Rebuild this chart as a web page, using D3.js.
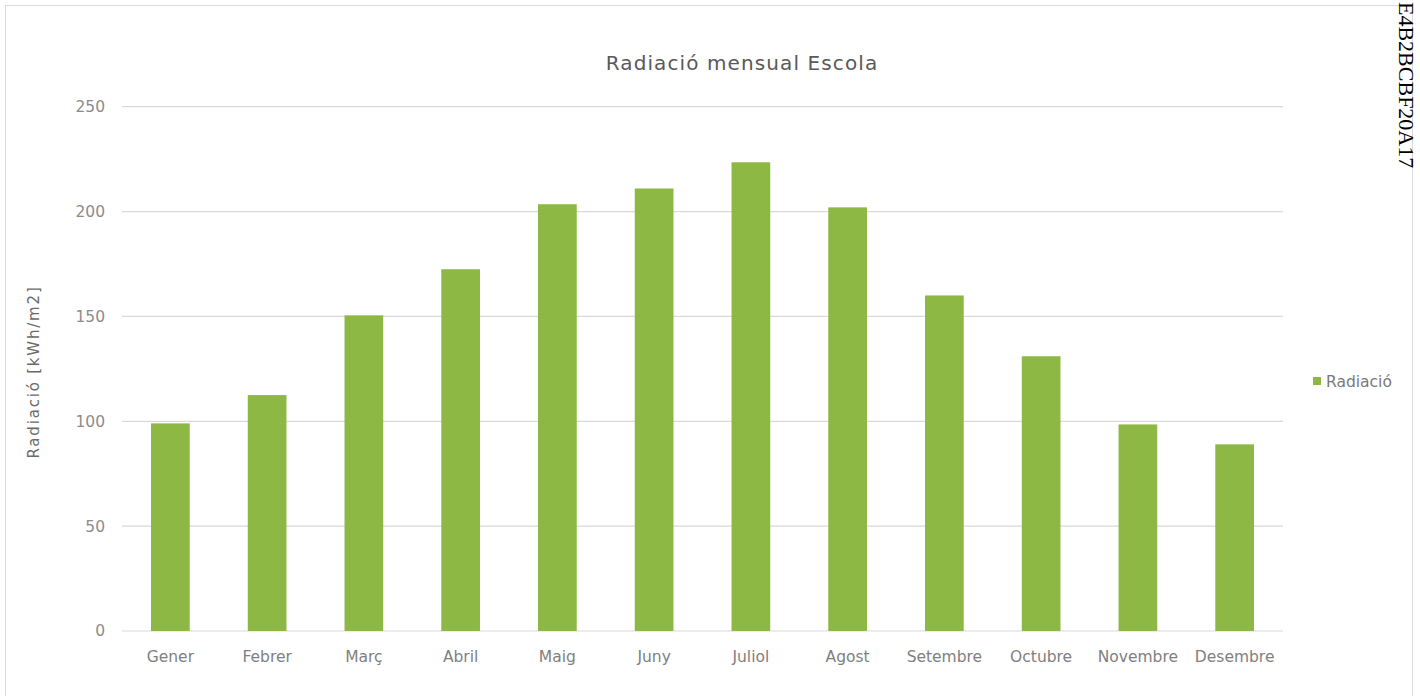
<!DOCTYPE html>
<html><head><meta charset="utf-8">
<script src="https://cdn.jsdelivr.net/npm/d3@7"></script>
<style>body{margin:0;background:#fff;}svg{display:block;}</style>
</head><body>
<svg id="c" width="1420" height="696"></svg>
<script>
const months = ["Gener","Febrer","Març","Abril","Maig","Juny","Juliol","Agost","Setembre","Octubre","Novembre","Desembre"];
const radiacio = [99, 112.5, 150.5, 172.5, 203.5, 211, 223.5, 202, 160, 131, 98.5, 89];
const yTicks = [0, 50, 100, 150, 200, 250];
const title = "Radiació mensual Escola";
const yTitle = "Radiació [kWh/m2]";
const seriesName = "Radiació";
const stamp = "E4B2BCBF20A17";

const svg = d3.select("#c");
const m = {l:122, r:1283, t:106.7, b:631};
const font = "'DejaVu Sans', Verdana, sans-serif";
const green = "#8db843";

svg.append("rect").attr("x",5.5).attr("y",5.5).attr("width",1407).attr("height",700)
  .attr("fill","#fff").attr("stroke","#d9d9d9");

const x = d3.scaleBand().domain(months).range([m.l, m.r]).paddingInner(0.6).paddingOuter(0.3);
const y = d3.scaleLinear().domain([0,250]).range([m.b, m.t]);

// gridlines
svg.append("g").selectAll("line").data(yTicks).join("line")
  .attr("x1", m.l).attr("x2", m.r)
  .attr("y1", d=>y(d)).attr("y2", d=>y(d))
  .attr("stroke", "#d9d9d9").attr("stroke-width", 1.2);

// y axis labels
const ya = svg.append("g").attr("transform",`translate(${m.l},0)`)
  .call(d3.axisLeft(y).tickValues(yTicks).tickSize(0).tickPadding(17));
ya.select(".domain").remove();
ya.selectAll("text").attr("font-family",font).attr("font-size",15.5).attr("fill","#8c8c8c");

// bars
svg.append("g").selectAll("rect").data(radiacio).join("rect")
  .attr("x",(d,i)=>x(months[i])).attr("width",x.bandwidth())
  .attr("y",d=>y(d)).attr("height",d=>y(0)-y(d))
  .attr("fill",green);

// x axis
const xa = svg.append("g").attr("transform",`translate(0,${m.b})`)
  .call(d3.axisBottom(x).tickSize(0).tickPadding(20));
xa.select(".domain").remove();
xa.selectAll("text").attr("font-family",font).attr("font-size",15.5).attr("fill","#808080");

// title
svg.append("text").attr("x",742).attr("y",70).attr("text-anchor","middle")
  .attr("font-family",font).attr("font-size",20).attr("letter-spacing",1.1)
  .attr("fill","#595959").text(title);

// y title
svg.append("text").attr("transform","translate(39,372) rotate(-90)").attr("text-anchor","middle")
  .attr("font-family",font).attr("font-size",15).attr("letter-spacing",1.8)
  .attr("fill","#6a6a6a").text(yTitle);

// legend
svg.append("rect").attr("x",1313).attr("y",377).attr("width",8).attr("height",8).attr("fill",green);
svg.append("text").attr("x",1326).attr("y",387).attr("font-family",font).attr("font-size",15.5)
  .attr("fill","#7a7a7a").text(seriesName);

// stamp
svg.append("text").attr("transform","translate(1399,2) rotate(90)")
  .attr("font-family","'Liberation Serif', 'DejaVu Serif', serif").attr("font-size",22)
  .attr("fill","#000").text(stamp);
</script>
</body></html>
